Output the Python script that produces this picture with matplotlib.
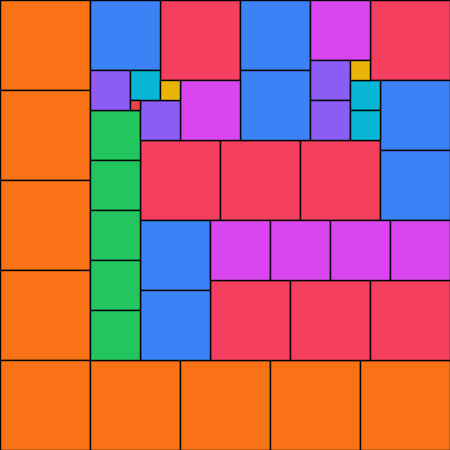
import matplotlib
matplotlib.use("Agg")
import matplotlib.pyplot as plt
from matplotlib.patches import Rectangle

# Partridge tiling of order 9: n squares of side n (grid units of 10 px)
sides = [9, 9, 9, 9, 9, 9, 9, 9, 9,
         8, 8, 8, 8, 8, 8, 8, 8,
         7, 7, 7, 7, 7, 7, 7,
         6, 6, 6, 6, 6, 6,
         5, 5, 5, 5, 5,
         4, 4, 4, 4,
         3, 3, 3,
         2, 2,
         1]
col = [0, 0, 0, 0, 0, 9, 18, 27, 36,
       16, 37, 14, 22, 30, 21, 29, 37,
       9, 24, 24, 38, 38, 14, 14,
       31, 18, 21, 27, 33, 39,
       9, 9, 9, 9, 9,
       9, 14, 31, 31,
       13, 35, 35,
       16, 35,
       13]
row = [0, 9, 18, 27, 36, 36, 36, 36, 36,
       0, 0, 14, 14, 14, 28, 28, 28,
       0, 0, 7, 8, 15, 22, 29,
       0, 8, 22, 22, 22, 22,
       11, 16, 21, 26, 31,
       7, 10, 6, 10,
       7, 8, 11,
       8, 6,
       10]
palette = {9: "#f97316", 8: "#f43f5e", 7: "#3b82f6", 6: "#d946ef",
           5: "#22c55e", 4: "#8b5cf6", 3: "#06b6d4", 2: "#eab308", 1: "#ef4444"}

fig = plt.figure(figsize=(4.5, 4.5), dpi=100)
ax = fig.add_axes([0, 0, 1, 1])
for s, c, r in zip(sides, col, row):
    ax.add_patch(Rectangle((c, r), s, s, facecolor=palette[s],
                           edgecolor="black", linewidth=1.0))
ax.set_xlim(0, 45)
ax.set_ylim(45, 0)
ax.axis("off")
fig.savefig("out.png", dpi=100)
